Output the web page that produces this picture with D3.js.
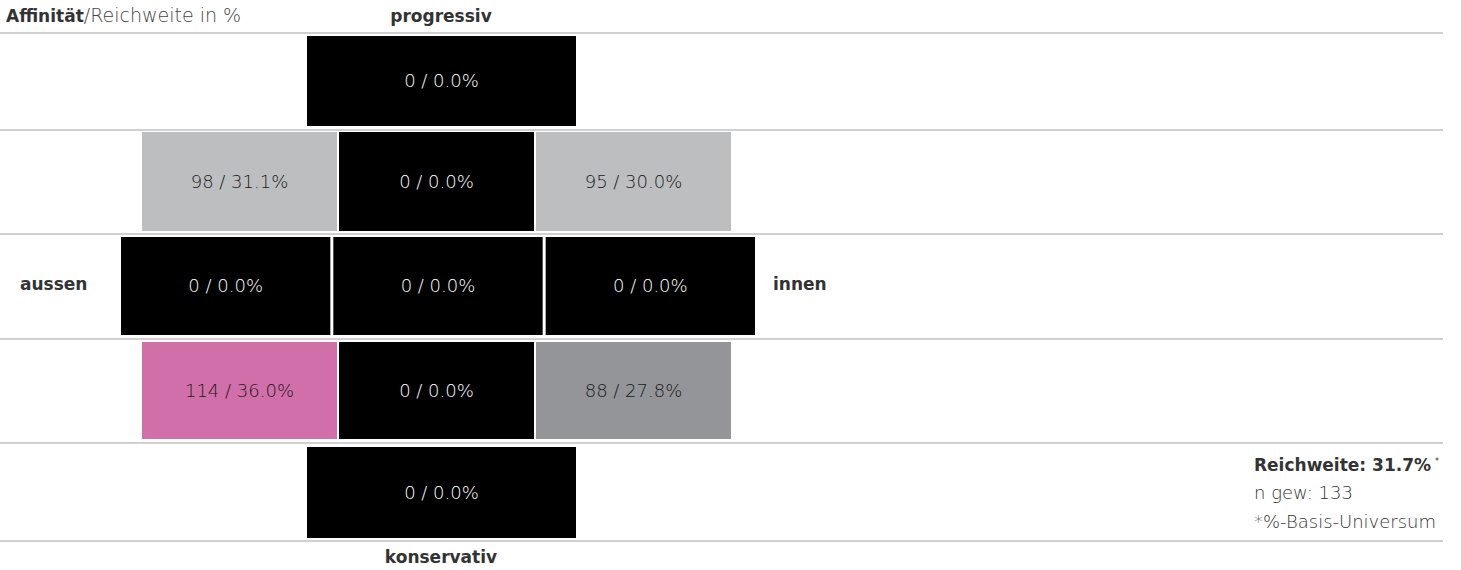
<!DOCTYPE html>
<html>
<head>
<meta charset="utf-8">
<script src="https://cdn.jsdelivr.net/npm/d3@7"></script>
<style>
  body { margin: 0; background: #fff; }
  svg text { font-family: "DejaVu Sans", "Open Sans", sans-serif; }
</style>
</head>
<body>
<svg id="chart" width="1461" height="570"></svg>
<script>
// rows from top (progressiv) to bottom (konservativ), cells left (aussen) -> right (innen)
const rowNames = ["progressiv", "ring1", "middle", "ring2", "konservativ"];
const affinity = [[0], [98, 0, 95], [0, 0, 0], [114, 0, 88], [0]];
const reach = [[0.0], [31.1, 0.0, 30.0], [0.0, 0.0, 0.0], [36.0, 0.0, 27.8], [0.0]];
const reichweite = 31.7;
const nGew = 133;

const svg = d3.select("#chart");

// row geometry
const rowHeights = [97, 104, 105, 104, 98];
const lineY = [33];
rowHeights.forEach(h => lineY.push(lineY[lineY.length - 1] + h));

const rowExtent = {
    progressiv: [307, 576, 0],
    ring1: [142, 731, 2],
    middle: [121, 755, 3],
    ring2: [142, 731, 2],
    konservativ: [307, 576, 0]
};
const rowPad = { progressiv: [3, 4], ring1: [2, 3], middle: [3, 4], ring2: [3, 4], konservativ: [4, 3] };

const color = d3.scaleThreshold()
    .domain([1, 90, 110])
    .range(["#000000", "#939598", "#bdbec0", "#d16faa"]);

// separator lines
svg.selectAll("line.sep")
    .data(lineY)
    .enter()
    .append("line")
    .attr("class", "sep")
    .attr("x1", 0)
    .attr("x2", 1443)
    .attr("y1", d => d)
    .attr("y2", d => d)
    .attr("stroke", "#d0d0d0")
    .attr("stroke-width", 2);

const cells = [];
rowNames.forEach((r, i) => {
    const [x0, x1, gap] = rowExtent[r];
    const x = d3.scaleBand()
        .domain(d3.range(affinity[i].length))
        .range([x0, x1 + gap]);
    affinity[i].forEach((a, j) => {
        cells.push({
            row: r,
            x: x(j),
            w: x.bandwidth() - gap,
            y: lineY[i] + rowPad[r][0],
            h: rowHeights[i] - rowPad[r][0] - rowPad[r][1],
            affinity: a,
            reach: reach[i][j]
        });
    });
});

const g = svg.selectAll("g.cell")
    .data(cells)
    .enter()
    .append("g")
    .attr("class", "cell");

g.append("rect")
    .attr("x", d => d.x)
    .attr("y", d => d.y)
    .attr("width", d => d.w)
    .attr("height", d => d.h)
    .attr("fill", d => color(d.affinity));

g.append("text")
    .attr("x", d => d.x + d.w / 2)
    .attr("y", d => d.y + d.h / 2)
    .attr("dy", "0.36em")
    .attr("text-anchor", "middle")
    .attr("font-size", 18)
    .attr("font-weight", 200)
    .attr("fill", d => d.affinity < 1 ? "#ffffff" : "#1a1a1a")
    .text(d => d.affinity + " / " + d.reach.toFixed(1) + "%");

// labels
const title = svg.append("text")
    .attr("x", 6)
    .attr("y", 22)
    .attr("font-size", 17)
    .attr("fill", "#333");
title.append("tspan").attr("font-weight", 700).text("Affinität");
title.append("tspan").attr("font-weight", 200).attr("font-size", 19).attr("fill", "#444").text("/Reichweite in %");

const bold = (x, y, t, anchor) => svg.append("text")
    .attr("x", x)
    .attr("y", y)
    .attr("text-anchor", anchor || "start")
    .attr("font-size", 17)
    .attr("font-weight", 700)
    .attr("fill", "#333")
    .text(t);

bold(441, 22, "progressiv", "middle");
bold(441, 563, "konservativ", "middle");
bold(20, 290, "aussen");
bold(773, 290, "innen");

const rw = bold(1254, 471, "Reichweite: " + reichweite + "%");
rw.append("tspan").attr("font-size", 8).attr("font-weight", 400).attr("dx", 4).attr("dy", -7).text("*");

svg.append("text")
    .attr("x", 1254)
    .attr("y", 499)
    .attr("font-size", 18)
    .attr("font-weight", 200)
    .attr("fill", "#333")
    .text("n gew: " + nGew);

svg.append("text")
    .attr("x", 1254)
    .attr("y", 528)
    .attr("font-size", 18)
    .attr("font-weight", 200)
    .attr("fill", "#333")
    .text("*%-Basis-Universum");
</script>
</body>
</html>
